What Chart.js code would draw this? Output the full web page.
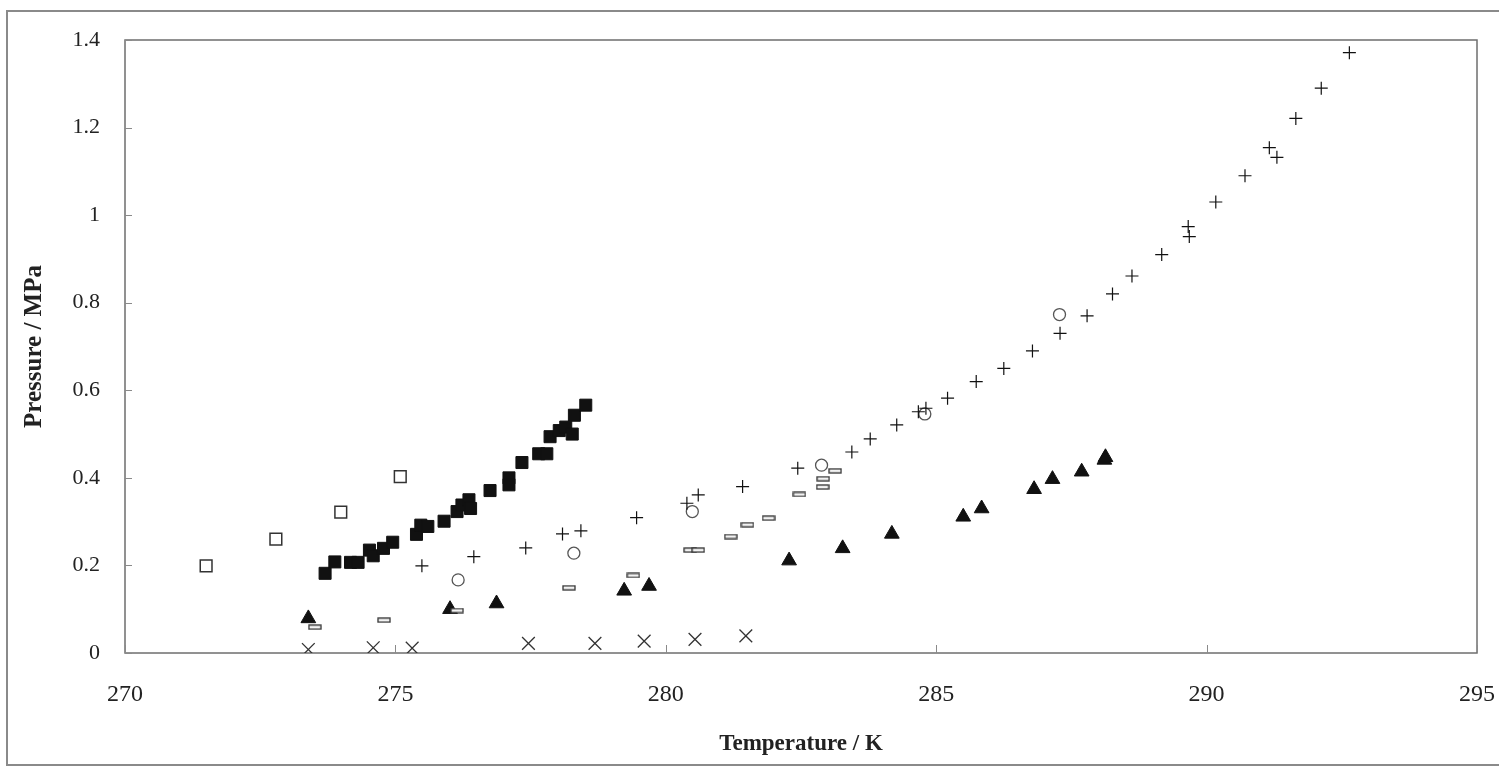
<!DOCTYPE html>
<html>
<head>
<meta charset="utf-8">
<script src="https://cdn.jsdelivr.net/npm/chart.js@4.4.0/dist/chart.umd.min.js"></script>
<style>
  html, body { margin: 0; padding: 0; background: #ffffff; overflow: hidden; }
  #frame { position: absolute; left: 6px; top: 10px; width: 1510px; height: 756px; border: 2px solid #8a8a8a; box-sizing: border-box; }
  #c { position: absolute; left: 0; top: 0; }
</style>
</head>
<body>
<div id="frame"></div>
<canvas id="c" width="1499" height="767"></canvas>
<script>
// ---- data ----
const xTicks = [270, 275, 280, 285, 290, 295];
const yTicks = [0, 0.2, 0.4, 0.6, 0.8, 1, 1.2, 1.4];

const openSqT = [271.50, 272.79, 273.99, 275.09];
const openSqP = [0.199, 0.260, 0.322, 0.403];

const filledSqT = [273.70, 273.88, 274.17, 274.31, 274.52, 274.59, 274.78, 274.95, 275.39, 275.47, 275.60, 275.90, 276.14, 276.23, 276.36, 276.39, 276.75, 277.10, 277.10, 277.34, 277.65, 277.80, 277.86, 278.03, 278.15, 278.27, 278.31, 278.52];
const filledSqP = [0.182, 0.208, 0.207, 0.207, 0.235, 0.222, 0.239, 0.253, 0.271, 0.292, 0.289, 0.301, 0.323, 0.338, 0.350, 0.330, 0.371, 0.400, 0.384, 0.435, 0.455, 0.455, 0.494, 0.508, 0.516, 0.500, 0.543, 0.566];

const plusT = [275.49, 276.45, 277.41, 278.09, 278.43, 279.46, 280.39, 280.60, 281.42, 282.44, 283.44, 283.78, 284.27, 284.67, 284.81, 285.21, 285.74, 286.25, 286.78, 287.29, 287.79, 288.26, 288.62, 289.17, 289.66, 289.68, 290.17, 290.71, 291.16, 291.30, 291.65, 292.12, 292.64];
const plusP = [0.199, 0.220, 0.240, 0.272, 0.279, 0.309, 0.342, 0.361, 0.380, 0.422, 0.459, 0.489, 0.521, 0.551, 0.559, 0.582, 0.620, 0.650, 0.690, 0.730, 0.770, 0.820, 0.861, 0.910, 0.974, 0.951, 1.030, 1.090, 1.154, 1.132, 1.221, 1.290, 1.371];

const circleT = [276.16, 278.30, 280.49, 282.88, 284.79, 287.28];
const circleP = [0.167, 0.228, 0.323, 0.429, 0.546, 0.773];

const dashT = [273.51, 274.79, 276.14, 278.21, 279.40, 280.45, 280.60, 281.20, 281.51, 281.90, 282.47, 282.90, 282.91, 283.13];
const dashP = [0.059, 0.075, 0.097, 0.149, 0.177, 0.235, 0.235, 0.266, 0.293, 0.308, 0.362, 0.379, 0.398, 0.416];

const triT = [273.39, 276.01, 276.87, 279.23, 279.69, 282.28, 283.27, 284.18, 285.50, 285.84, 286.81, 287.15, 287.69, 288.11, 288.13];
const triP = [0.079, 0.100, 0.113, 0.142, 0.153, 0.211, 0.239, 0.272, 0.311, 0.330, 0.374, 0.397, 0.414, 0.441, 0.447];

const xMarkT = [273.39, 274.59, 275.31, 277.46, 278.69, 279.60, 280.54, 281.48];
const xMarkP = [0.008, 0.012, 0.011, 0.022, 0.022, 0.027, 0.031, 0.039];

const xTitle = 'Temperature / K';
const yTitle = 'Pressure / MPa';

// ---- helpers ----
function pts(xs, ys) { return xs.map((x, i) => ({ x: x, y: ys[i] })); }

const dashImg = document.createElement('canvas');
dashImg.width = 14; dashImg.height = 6;
(function () {
  const g = dashImg.getContext('2d');
  g.fillStyle = '#f2f2f2';
  g.fillRect(1, 1, 12, 4);
  g.strokeStyle = '#333';
  g.lineWidth = 1.3;
  g.strokeRect(1, 1, 12, 4);
})();

const FONT = "'Liberation Serif', 'Times New Roman', serif";

const framePlugin = {
  id: 'framePlugin',
  beforeDatasetsDraw(chart) {
    const a = chart.chartArea, ctx = chart.ctx;
    const xs = chart.scales.x, ys = chart.scales.y;
    ctx.save();
    ctx.strokeStyle = '#6e6e6e';
    ctx.lineWidth = 1.5;
    ctx.strokeRect(a.left, a.top, a.right - a.left, a.bottom - a.top);
    ctx.lineWidth = 1;
    ctx.strokeStyle = '#8a8a8a';
    ctx.beginPath();
    xTicks.forEach(v => {
      const px = Math.round(xs.getPixelForValue(v)) + 0.5;
      ctx.moveTo(px, a.bottom);
      ctx.lineTo(px, a.bottom - 8);
    });
    yTicks.forEach(v => {
      const py = Math.round(ys.getPixelForValue(v)) + 0.5;
      ctx.moveTo(a.left, py);
      ctx.lineTo(a.left + 7, py);
    });
    ctx.stroke();
    ctx.restore();
  }
};

new Chart(document.getElementById('c'), {
  type: 'scatter',
  data: {
    datasets: [
      { label: 'open squares', data: pts(openSqT, openSqP), pointStyle: 'rect', pointRadius: 8.3, backgroundColor: 'rgba(255,255,255,0)', borderColor: '#333', borderWidth: 1.5 },
      { label: 'filled squares', data: pts(filledSqT, filledSqP), pointStyle: 'rect', pointRadius: 8.5, backgroundColor: '#111', borderColor: '#111', borderWidth: 1 },
      { label: 'plus', data: pts(plusT, plusP), pointStyle: 'cross', pointRadius: 6.5, borderColor: '#111', borderWidth: 1.2 },
      { label: 'circles', data: pts(circleT, circleP), pointStyle: 'circle', pointRadius: 6, backgroundColor: 'rgba(255,255,255,0)', borderColor: '#555', borderWidth: 1.3 },
      { label: 'dashes', data: pts(dashT, dashP), pointStyle: dashImg, pointRadius: 6 },
      { label: 'triangles', data: pts(triT, triP), pointStyle: 'triangle', pointRadius: 8.5, backgroundColor: '#111', borderColor: '#111', borderWidth: 1 },
      { label: 'crosses', data: pts(xMarkT, xMarkP), pointStyle: 'crossRot', pointRadius: 9, borderColor: '#333', borderWidth: 1.3 }
    ]
  },
  options: {
    responsive: false,
    animation: false,
    devicePixelRatio: 1,
    layout: { padding: { left: 0, top: 40, right: 22, bottom: 0 } },
    plugins: { legend: { display: false }, tooltip: { enabled: false } },
    scales: {
      x: {
        type: 'linear', min: 270, max: 295,
        afterFit: s => { s.height = 114; s.paddingLeft = 0; s.paddingRight = 0; },
        afterBuildTicks: s => { s.ticks = xTicks.map(v => ({ value: v })); },
        grid: { display: false, drawTicks: false },
        border: { display: false },
        ticks: { padding: 27, color: '#222', font: { family: FONT, size: 24 } },
        title: { display: true, text: xTitle, color: '#222', font: { family: FONT, size: 23, weight: 'bold' }, padding: { top: 0, bottom: 9 } }
      },
      y: {
        type: 'linear', min: 0, max: 1.4,
        afterFit: s => { s.width = 125; s.paddingTop = 0; s.paddingBottom = 0; },
        afterBuildTicks: s => { s.ticks = yTicks.map(v => ({ value: v })); },
        grid: { display: false, drawTicks: false },
        border: { display: false },
        ticks: { padding: 25, color: '#222', font: { family: FONT, size: 22 },
                 callback: v => String(parseFloat(Number(v).toFixed(1))) },
        title: { display: true, text: yTitle, color: '#222', font: { family: FONT, size: 25, weight: 'bold' }, padding: { top: 20, bottom: 0 } }
      }
    }
  },
  plugins: [framePlugin]
});
</script>
</body>
</html>
